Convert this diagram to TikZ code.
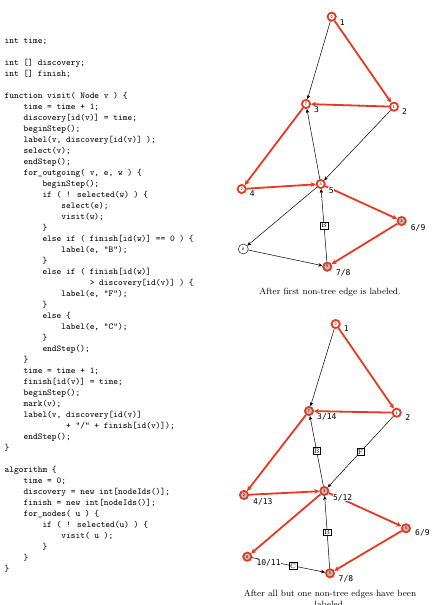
\documentclass[tikz,border=0pt]{standalone}
\usepackage{fontspec}
\newfontfamily\tagfont{DejaVu Sans Mono}
\definecolor{treered}{HTML}{E8381F}
\definecolor{donegray}{HTML}{BDBDBD}
\usetikzlibrary{arrows.meta, positioning}
\newcommand{\codeind}[1]{\hspace*{#1\fontdimen2\font}}

\begin{document}
\begin{tikzpicture}[x=1pt, y=-1pt]
        \tikzset{
          vtx/.style={circle, draw=treered, line width=1.8pt, fill=white,
                 minimum size=8.2pt, inner sep=0pt,
                 font=\sffamily\fontsize{4}{4}\selectfont},
          done/.style={vtx, fill=donegray},
          fresh/.style={circle, draw=black, line width=0.4pt, fill=white,
                 minimum size=10pt, inner sep=0pt,
                 font=\sffamily\fontsize{4}{4}\selectfont},
          arc/.style={-{Stealth[length=4pt, width=3.5pt]}, line width=0.5pt},
          tree/.style={-{Stealth[length=5pt, width=5pt]}, line width=1.8pt, treered},
          tag/.style={font=\tagfont\fontsize{8}{8}\selectfont, fill=white, inner sep=0.5pt},
          kind/.style={draw, line width=0.4pt, fill=white, inner sep=1pt, font=\scriptsize},
          code/.style={align=left, inner sep=0pt, font=\ttfamily\small},
          caption/.style={align=center, inner sep=0pt, font=\small}
        }
        \useasboundingbox (0,0) rectangle (435,605);
        % pseudo code
        \node[code, anchor=north west] (algo) at (4.5,37.5) {int time;\\
\mbox{}\\
int [] discovery;\\
int [] finish;\\
\mbox{}\\
function visit( Node v ) \{\\
\codeind{4}time = time + 1;\\
\codeind{4}discovery[id(v)] = time;\\
\codeind{4}beginStep();\\
\codeind{4}label(v, discovery[id(v)] );\\
\codeind{4}select(v);\\
\codeind{4}endStep();\\
\codeind{4}for\_outgoing( v, e, w ) \{\\
\codeind{8}beginStep();\\
\codeind{8}if ( ! selected(w) ) \{\\
\codeind{12}select(e);\\
\codeind{12}visit(w);\\
\codeind{8}\}\\
\codeind{8}else if ( finish[id(w)] == 0 ) \{\\
\codeind{12}label(e, "B");\\
\codeind{8}\}\\
\codeind{8}else if ( finish[id(w)]\\
\codeind{18}> discovery[id(v)] ) \{\\
\codeind{12}label(e, "F");\\
\codeind{8}\}\\
\codeind{8}else \{\\
\codeind{12}label(e, "C");\\
\codeind{8}\}\\
\codeind{8}endStep();\\
\codeind{4}\}\\
\codeind{4}time = time + 1;\\
\codeind{4}finish[id(v)] = time;\\
\codeind{4}beginStep();\\
\codeind{4}mark(v);\\
\codeind{4}label(v, discovery[id(v)]\\
\codeind{13}+ "/" + finish[id(v)]);\\
\codeind{4}endStep();\\
\}\\
\mbox{}\\
algorithm \{\\
\codeind{4}time = 0;\\
\codeind{4}discovery = new int[nodeIds()];\\
\codeind{4}finish = new int[nodeIds()];\\
\codeind{4}for\_nodes( u ) \{\\
\codeind{8}if ( ! selected(u) ) \{\\
\codeind{12}visit( u );\\
\codeind{8}\}\\
\codeind{4}\}\\
\}};

        % first snapshot
        \node[vtx]   (a0) at (331.7,16.7) {0};
        \node[vtx]   (a7) at (306,104) {7};
        \node[vtx]   (a1) at (394,106.7) {1};
        \node[vtx]   (a2) at (241.7,189) {2};
        \node[vtx]   (a3) at (320.7,184) {3};
        \node[done]  (a4) at (401.7,221) {4};
        \node[fresh] (a6) at (243.3,249) {6};
        \node[done]  (a5) at (327.3,266.7) {5};
        \draw[arc]  (a0) -- (a7);
        \draw[tree] (a0) -- (a1);
        \draw[tree] (a1) -- (a7);
        \draw[arc]  (a1) -- (a3);
        \draw[tree] (a7) -- (a2);
        \draw[tree] (a2) -- (a3);
        \draw[arc]  (a3) -- (a7);
        \draw[tree] (a3) -- (a4);
        \draw[arc]  (a3) -- (a6);
        \draw[tree] (a4) -- (a5);
        \draw[arc]  (a5) -- node[kind] {B} (a3);
        \draw[arc]  (a6) -- (a5);
        \node[tag, right=2.5pt of a0, yshift=-6pt] (ta0) {1};
        \node[tag, right=2.5pt of a7, yshift=-6pt] (ta7) {3};
        \node[tag, right=2.5pt of a1, yshift=-5pt] (ta1) {2};
        \node[tag, right=2.5pt of a2, yshift=-5pt] (ta2) {4};
        \node[tag, right=2.5pt of a3, yshift=-6.5pt] (ta3) {5};
        \node[tag, right=3.5pt of a4, yshift=-6.5pt] (ta4) {6/9};
        \node[tag, right=3pt of a5, yshift=-6.5pt] (ta5) {7/8};
        \node[caption] (cap1) at (330,292) {After first non-tree edge is labeled.};

        % second snapshot
        \node[vtx]  (b0) at (335.7,324) {0};
        \node[done] (b7) at (309,411) {7};
        \node[vtx]  (b1) at (396.7,412.7) {1};
        \node[done] (b2) at (244,495) {2};
        \node[done] (b3) at (324.3,491) {3};
        \node[done] (b4) at (406,528.3) {4};
        \node[done] (b6) at (247.3,556.7) {6};
        \node[done] (b5) at (330,573.3) {5};
        \draw[arc]  (b0) -- (b7);
        \draw[tree] (b0) -- (b1);
        \draw[tree] (b1) -- (b7);
        \draw[arc]  (b1) -- node[kind] {F} (b3);
        \draw[tree] (b7) -- (b2);
        \draw[tree] (b2) -- (b3);
        \draw[arc]  (b3) -- node[kind] {B} (b7);
        \draw[tree] (b3) -- (b4);
        \draw[tree] (b3) -- (b6);
        \draw[tree] (b4) -- (b5);
        \draw[arc]  (b5) -- node[kind] {B} (b3);
        \draw[arc]  (b6) -- node[kind, pos=0.56] {C} (b5);
        \node[tag, right=2.5pt of b0, yshift=-5pt] (tb0) {1};
        \node[tag, right=2.5pt of b7, yshift=-6pt] (tb7) {3/14};
        \node[tag, right=3pt of b1, yshift=-5pt] (tb1) {2};
        \node[tag, right=3.5pt of b2, yshift=-6.5pt] (tb2) {4/13};
        \node[tag, right=3pt of b3, yshift=-6.5pt] (tb3) {5/12};
        \node[tag, right=3.5pt of b4, yshift=-5pt] (tb4) {6/9};
        \node[tag, right=3.5pt of b6, yshift=-6.5pt] (tb6) {10/11};
        \node[tag, right=3pt of b5, yshift=-6pt] (tb5) {7/8};
        \node[caption, anchor=north] (cap2) at (330,589.5) {After all but one non-tree edges have been\\labeled.};
      \end{tikzpicture}
\end{document}
